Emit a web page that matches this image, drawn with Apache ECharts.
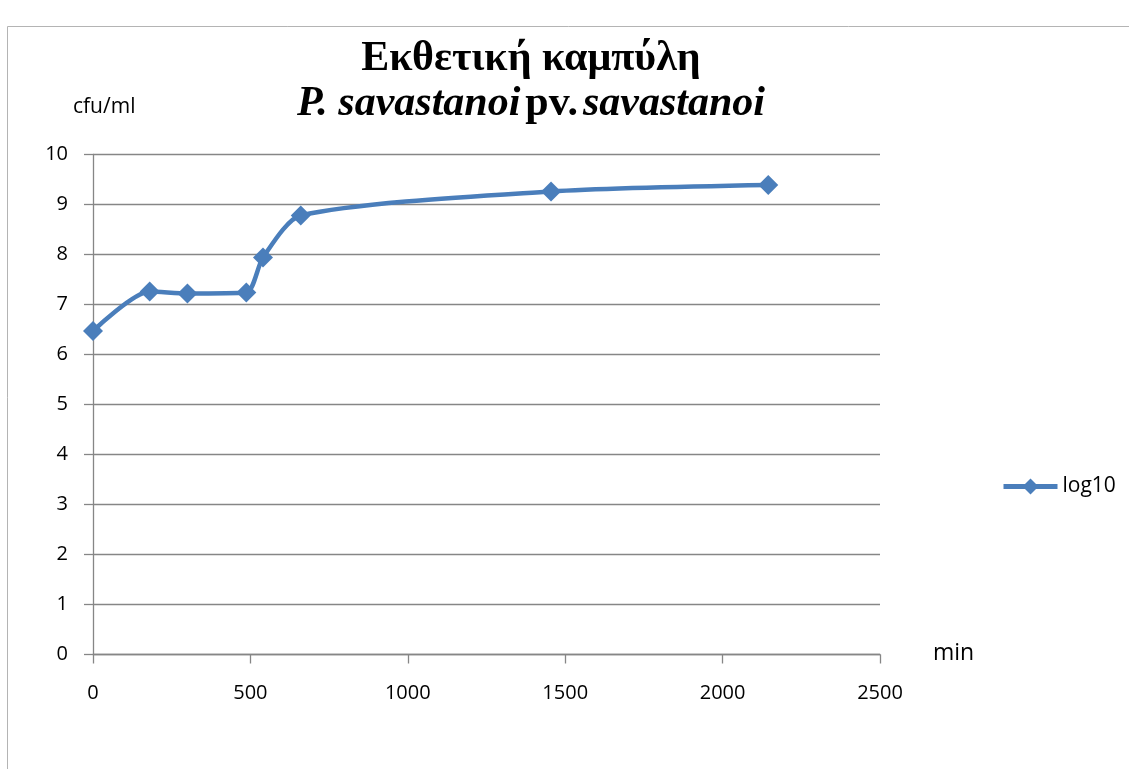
<!DOCTYPE html>
<html>
<head>
<meta charset="utf-8">
<script src="https://cdn.jsdelivr.net/npm/echarts@6/dist/echarts.min.js"></script>
<style>
  html, body { margin: 0; padding: 0; background: #fff; }
  #chart { width: 1129px; height: 769px; }
</style>
</head>
<body>
<div id="chart"></div>
<script>
// χρόνος (min) και log10 cfu/ml
const minutes = [0, 180, 300, 487, 540, 660, 1455, 2145];
const log10Values = [6.47, 7.26, 7.22, 7.24, 7.94, 8.78, 9.26, 9.39];
const xTicks = [0, 500, 1000, 1500, 2000, 2500];
const yTicks = [0, 1, 2, 3, 4, 5, 6, 7, 8, 9, 10];

const chart = echarts.init(document.getElementById('chart'));

const axisColor = '#868686';
const labelFont = "'Open Sans', sans-serif";

const option = {
  backgroundColor: '#fff',
  animation: false,
  title: {
    left: 526,
    top: 32,
    textAlign: 'center',
    text: '{b|Εκθετική καμπύλη}\n{bi|P. savastanoi} {b|pv.} {bi|savastanoi}',
    textStyle: {
      rich: {
        b: { fontFamily: "'Liberation Serif', serif", fontWeight: 'bold', fontSize: 42, lineHeight: 45, color: '#000' },
        bi: { fontFamily: "'Liberation Serif', serif", fontWeight: 'bold', fontStyle: 'italic', fontSize: 42, lineHeight: 45, color: '#000' }
      }
    }
  },
  legend: {
    left: 996,
    top: 471,
    itemWidth: 54,
    itemHeight: 20,
    itemGap: 7,
    lineStyle: { width: 5 },
    textStyle: { fontFamily: labelFont, fontSize: 21, color: '#000' },
    data: ['log10']
  },
  grid: {
    left: 93,
    right: 249,
    top: 154.5,
    bottom: 114.5
  },
  xAxis: {
    type: 'value',
    min: xTicks[0],
    max: xTicks[xTicks.length - 1],
    interval: 500,
    axisLine: { show: true, lineStyle: { color: axisColor, width: 1.3 } },
    axisTick: { show: true, length: 9, lineStyle: { color: axisColor, width: 1.3 } },
    splitLine: { show: false },
    axisLabel: { margin: 29, fontFamily: labelFont, fontSize: 20, color: '#000', formatter: v => String(v) }
  },
  yAxis: {
    type: 'value',
    min: yTicks[0],
    max: yTicks[yTicks.length - 1],
    interval: 1,
    axisLine: { show: true, lineStyle: { color: axisColor, width: 1.3 } },
    axisTick: { show: true, length: 9, lineStyle: { color: axisColor, width: 1.3 } },
    splitLine: { show: true, lineStyle: { color: axisColor, width: 1.3 } },
    axisLabel: { margin: 25, fontFamily: labelFont, fontSize: 20, color: '#000' }
  },
  graphic: [
    {
      type: 'polyline',
      shape: { points: [[7.5, 769], [7.5, 26.5], [1129, 26.5]] },
      style: { stroke: '#b4b4b4', lineWidth: 1, fill: null }
    },
    {
      type: 'text',
      left: 73,
      top: 97,
      style: { text: 'cfu/ml', font: "21px 'Open Sans', sans-serif", fill: '#000' }
    },
    {
      type: 'text',
      left: 933,
      top: 642,
      style: { text: 'min', font: "23px 'Open Sans', sans-serif", fill: '#000' }
    }
  ],
  series: [
    {
      name: 'log10',
      type: 'line',
      data: minutes.map((m, i) => [m, log10Values[i]]),
      smooth: 0.25,
      symbol: 'diamond',
      symbolSize: 20,
      lineStyle: { color: '#4a7ebb', width: 4.5 },
      itemStyle: { color: '#4a7ebb' }
    }
  ]
};

chart.setOption(option);
</script>
</body>
</html>
